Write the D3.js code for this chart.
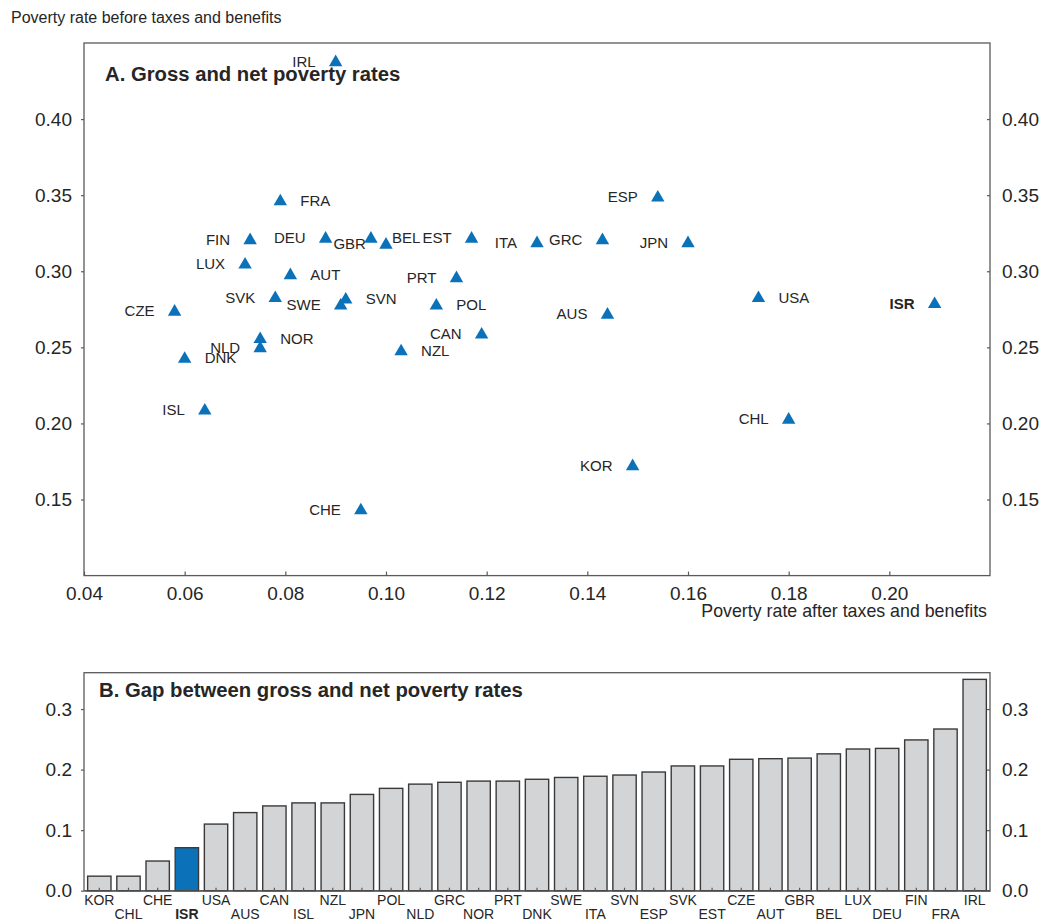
<!DOCTYPE html>
<html>
<head>
<meta charset="utf-8">
<script src="https://cdn.jsdelivr.net/npm/d3@7"></script>
<style>
  body { margin: 0; background: #fff; }
  svg text { font-family: "Liberation Sans", Arial, Helvetica, sans-serif; fill: #262626; }
</style>
</head>
<body>
<svg id="chart"></svg>
<script>
// panel A: poverty rate after (net) and before (gross) taxes and benefits
var countries = ["IRL","FRA","FIN","DEU","GBR","BEL","EST","ITA","GRC","ESP","JPN","USA","ISR",
                 "LUX","AUT","PRT","SVK","SVN","SWE","POL","CZE","CAN","NOR","NLD","NZL","DNK",
                 "ISL","CHE","AUS","CHL","KOR"];
var netRate = [0.090,0.079,0.073,0.088,0.097,0.100,0.117,0.130,0.143,0.154,0.160,0.174,0.209,
               0.072,0.081,0.114,0.078,0.092,0.091,0.110,0.058,0.119,0.075,0.075,0.103,0.060,
               0.064,0.095,0.144,0.180,0.149];
var grossRate = [0.438,0.3465,0.321,0.322,0.322,0.318,0.322,0.319,0.321,0.349,0.319,0.283,0.279,
                 0.305,0.298,0.296,0.283,0.282,0.278,0.278,0.274,0.259,0.256,0.250,0.248,0.243,
                 0.209,0.1435,0.272,0.203,0.1725];
// which side of the marker the label sits on
var labelSide = ["L","R","L","L","L","R","L","L","L","L","L","R","L",
                 "L","R","L","L","R","L","R","L","L","R","L","R","R",
                 "L","L","L","L","L"];

// panel B: gap between gross and net rates
var gapCountries = ["KOR","CHL","CHE","ISR","USA","AUS","CAN","ISL","NZL","JPN","POL","NLD","GRC",
                    "NOR","PRT","DNK","SWE","ITA","SVN","ESP","SVK","EST","CZE","AUT","GBR","BEL",
                    "LUX","DEU","FIN","FRA","IRL"];
var gapValues = [0.024,0.024,0.049,0.071,0.110,0.129,0.140,0.145,0.145,0.159,0.169,0.176,0.179,
                 0.181,0.181,0.184,0.187,0.189,0.191,0.196,0.206,0.206,0.217,0.218,0.219,0.226,
                 0.234,0.235,0.249,0.267,0.349];

var yTicksA = [0.15,0.20,0.25,0.30,0.35,0.40];
var xTicksA = [0.04,0.06,0.08,0.10,0.12,0.14,0.16,0.18,0.20];
var yTicksB = [0.0,0.1,0.2,0.3];
var highlight = "ISR";

var width = 1042, height = 921;
var blue = "#0b72b9", frameColor = "#5a5a5a";

var svg = d3.select("#chart").attr("width", width).attr("height", height);

// ---------- panel A ----------
var left = 84, right = 990, topA = 43, bottomA = 575.6;

var x = d3.scaleLinear().domain([0.04, 0.22]).range([left, right]);
var y = d3.scaleLinear().domain([0.10, 0.45]).range([bottomA, topA]);

svg.append("text")
    .attr("x", 11).attr("y", 23)
    .style("font-size", "16px")
    .text("Poverty rate before taxes and benefits");

var gA = svg.append("g");

gA.append("rect")
    .attr("x", left).attr("y", topA)
    .attr("width", right - left).attr("height", bottomA - topA)
    .attr("fill", "none").attr("stroke", frameColor).attr("stroke-width", 1.3);

function styleAxis(sel, size) {
  sel.select(".domain").remove();
  sel.selectAll(".tick line").attr("stroke", frameColor).attr("stroke-width", 1.2);
  sel.selectAll(".tick text").style("font-size", size).attr("fill", "#262626");
}

gA.append("g")
    .attr("transform", "translate(" + left + ",0)")
    .call(d3.axisLeft(y).tickValues(yTicksA).tickFormat(d3.format(".2f")).tickSize(3).tickPadding(9))
    .call(styleAxis, "19px");

gA.append("g")
    .attr("transform", "translate(" + right + ",0)")
    .call(d3.axisRight(y).tickValues(yTicksA).tickFormat(d3.format(".2f")).tickSize(-3).tickPadding(12))
    .call(styleAxis, "19px");

gA.append("g")
    .attr("transform", "translate(0," + bottomA + ")")
    .call(d3.axisBottom(x).tickValues(xTicksA).tickFormat(d3.format(".2f")).tickSize(-4).tickPadding(11))
    .call(styleAxis, "19px");

svg.append("text")
    .attr("x", 987).attr("y", 617)
    .attr("text-anchor", "end")
    .style("font-size", "17.8px")
    .text("Poverty rate after taxes and benefits");

gA.append("text")
    .attr("x", 105).attr("y", 81)
    .style("font-size", "20.3px").style("font-weight", "bold")
    .text("A. Gross and net poverty rates");

var points = countries.map(function(c, i) {
  return { name: c, net: netRate[i], gross: grossRate[i], side: labelSide[i] };
});

// labels squeezed in the crowded GBR / BEL cluster
var tightLabels = { GBR: [-5, 6], BEL: [6, -6] };

var tri = d3.symbol().type(d3.symbolTriangle).size(78);

gA.selectAll("path.pt")
    .data(points)
    .enter().append("path")
    .attr("class", "pt")
    .attr("d", tri)
    .attr("transform", function(d) { return "translate(" + x(d.net) + "," + (y(d.gross) + 1) + ")"; })
    .attr("fill", blue);

gA.selectAll("text.lbl")
    .data(points)
    .enter().append("text")
    .attr("class", "lbl")
    .attr("x", function(d) {
      var dx = tightLabels[d.name] ? tightLabels[d.name][0] : (d.side == "L" ? -20 : 20);
      return x(d.net) + dx;
    })
    .attr("y", function(d) {
      var dy = tightLabels[d.name] ? tightLabels[d.name][1] : 0;
      return y(d.gross) + dy;
    })
    .attr("dy", "0.36em")
    .attr("text-anchor", function(d) { return d.side == "L" ? "end" : "start"; })
    .style("font-size", "15px")
    .style("font-weight", function(d) { return d.name == highlight ? "bold" : "normal"; })
    .text(function(d) { return d.name; });

// ---------- panel B ----------
var topB = 672.7, bottomB = 890.7;

var xb = d3.scaleBand().domain(gapCountries).range([left, right])
    .paddingInner(0.2).paddingOuter(0.125);
var yb = d3.scaleLinear().domain([0, 0.36]).range([bottomB, topB]);

var gB = svg.append("g");

gB.append("rect")
    .attr("x", left).attr("y", topB)
    .attr("width", right - left).attr("height", bottomB - topB)
    .attr("fill", "none").attr("stroke", frameColor).attr("stroke-width", 1.3);

gB.selectAll("rect.bar")
    .data(gapCountries)
    .enter().append("rect")
    .attr("class", "bar")
    .attr("x", function(d) { return xb(d); })
    .attr("width", xb.bandwidth())
    .attr("y", function(d, i) { return yb(gapValues[i]); })
    .attr("height", function(d, i) { return yb(0) - yb(gapValues[i]); })
    .attr("fill", function(d) { return d == highlight ? blue : "#d3d4d6"; })
    .attr("stroke", "#3a3a3a")
    .attr("stroke-width", 1.4);

gB.append("g")
    .attr("transform", "translate(" + left + ",0)")
    .call(d3.axisLeft(yb).tickValues(yTicksB).tickFormat(d3.format(".1f")).tickSize(3).tickPadding(9))
    .call(styleAxis, "19px");

gB.append("g")
    .attr("transform", "translate(" + right + ",0)")
    .call(d3.axisRight(yb).tickValues(yTicksB).tickFormat(d3.format(".1f")).tickSize(-3).tickPadding(12))
    .call(styleAxis, "19px");

var xAxisB = gB.append("g")
    .attr("transform", "translate(0," + bottomB + ")")
    .call(d3.axisBottom(xb).tickSize(-3).tickSizeOuter(0).tickPadding(0));
xAxisB.select(".domain").attr("stroke", frameColor).attr("stroke-width", 1.3);
xAxisB.selectAll(".tick line").attr("stroke", frameColor).attr("stroke-width", 1.2);
xAxisB.selectAll(".tick text")
    .attr("y", function(d, i) { return i % 2 == 0 ? 14 : 28; })
    .attr("dy", 0)
    .attr("fill", "#262626")
    .style("font-size", "14px")
    .style("font-weight", function(d) { return d == highlight ? "bold" : "normal"; });

gB.append("text")
    .attr("x", 99).attr("y", 697)
    .style("font-size", "20.3px").style("font-weight", "bold")
    .text("B. Gap between gross and net poverty rates");
</script>
</body>
</html>
